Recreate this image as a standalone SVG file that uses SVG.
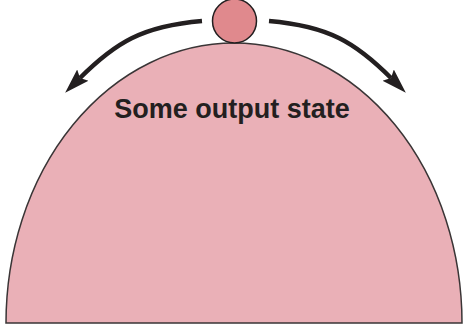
<svg xmlns="http://www.w3.org/2000/svg" width="463" height="326" viewBox="0 0 463 326">
  <style>
    .dome { fill: #EAB0B7; stroke: #3a3536; stroke-width: 1.5; }
    .ball { fill: #E0898D; stroke: #231F20; stroke-width: 1.5; }
    .arrow { fill: none; stroke: #231F20; stroke-width: 4.5; marker-end: url(#head); }
    .label { font-family: "Liberation Sans", Arial, sans-serif; font-weight: bold; font-size: 27px; fill: #231F20; text-anchor: middle; }
  </style>
  <defs>
    <marker id="head" markerUnits="userSpaceOnUse" markerWidth="30" markerHeight="20" viewBox="0 -10 30 20" refX="4" refY="0" orient="auto">
      <path d="M0,-8 L25,0 L0,8 L4,0 Z" fill="#231F20"/>
    </marker>
  </defs>
  <g id="dome">
    <path class="dome" d="M6,323 A228,280 0 0 1 462,323 Z"/>
    <text class="label" x="232" y="118">Some output state</text>
  </g>
  <g id="ball">
    <circle class="ball" cx="234.5" cy="21" r="22"/>
  </g>
  <g id="connectors">
    <path class="arrow" d="M202,21 C142,26 115,43 80,78"/>
    <path class="arrow" d="M269,21 C329,26 356,43 391,78"/>
  </g>
</svg>
